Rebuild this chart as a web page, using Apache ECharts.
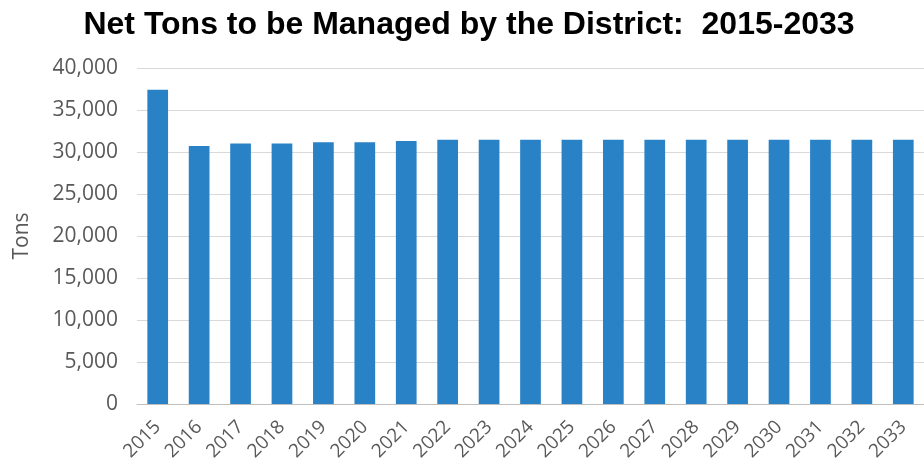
<!DOCTYPE html>
<html>
<head>
<meta charset="utf-8">
<style>
  html, body { margin: 0; padding: 0; background: #ffffff; }
  #chart { width: 924px; height: 473px; }
</style>
<script src="https://cdn.jsdelivr.net/npm/echarts@6/dist/echarts.min.js"></script>
</head>
<body>
<div id="chart"></div>
<script>
// Projected net tons handled by the district, by year
const years = ['2015','2016','2017','2018','2019','2020','2021','2022','2023','2024',
               '2025','2026','2027','2028','2029','2030','2031','2032','2033'];
const netTons = [37400, 30700, 31000, 31000, 31150, 31150, 31300, 31450, 31450, 31450,
                 31450, 31450, 31450, 31450, 31450, 31450, 31450, 31450, 31450];
const yTicks = { min: 0, max: 40000, step: 5000 };

const chart = echarts.init(document.getElementById('chart'));

chart.setOption({
  animation: false,
  backgroundColor: '#ffffff',
  title: {
    text: 'Net Tons to be Managed by the District:  2015-2033',
    left: 464,
    top: 4,
    textAlign: 'center',
    textStyle: {
      fontFamily: 'Liberation Sans, Arial, sans-serif',
      fontWeight: 'bold',
      fontSize: 32,
      color: '#000000'
    }
  },
  grid: { left: 137, right: -4, top: 68, bottom: 69, containLabel: false },
  xAxis: {
    type: 'category',
    data: years,
    axisLine: { lineStyle: { color: '#bfbfbf', width: 1 } },
    axisTick: { show: false },
    axisLabel: {
      rotate: 45,
      interval: 0,
      margin: 20,
      fontFamily: 'Open Sans, sans-serif',
      fontSize: 19,
      color: '#595959'
    }
  },
  yAxis: {
    type: 'value',
    min: yTicks.min,
    max: yTicks.max,
    interval: yTicks.step,
    name: 'Tons',
    nameLocation: 'middle',
    nameRotate: 90,
    nameGap: 104,
    nameTextStyle: {
      fontFamily: 'Open Sans, sans-serif',
      fontSize: 21,
      color: '#595959'
    },
    axisLine: { show: false },
    axisTick: { show: false },
    splitLine: { lineStyle: { color: '#d9d9d9', width: 1 } },
    axisLabel: {
      margin: 19,
      fontFamily: 'Open Sans, sans-serif',
      fontSize: 21,
      color: '#595959',
      formatter: v => v.toLocaleString('en-US')
    }
  },
  series: [{
    type: 'bar',
    data: netTons,
    barCategoryGap: '50%',
    itemStyle: { color: '#2a82c6' }
  }]
});
</script>
</body>
</html>
